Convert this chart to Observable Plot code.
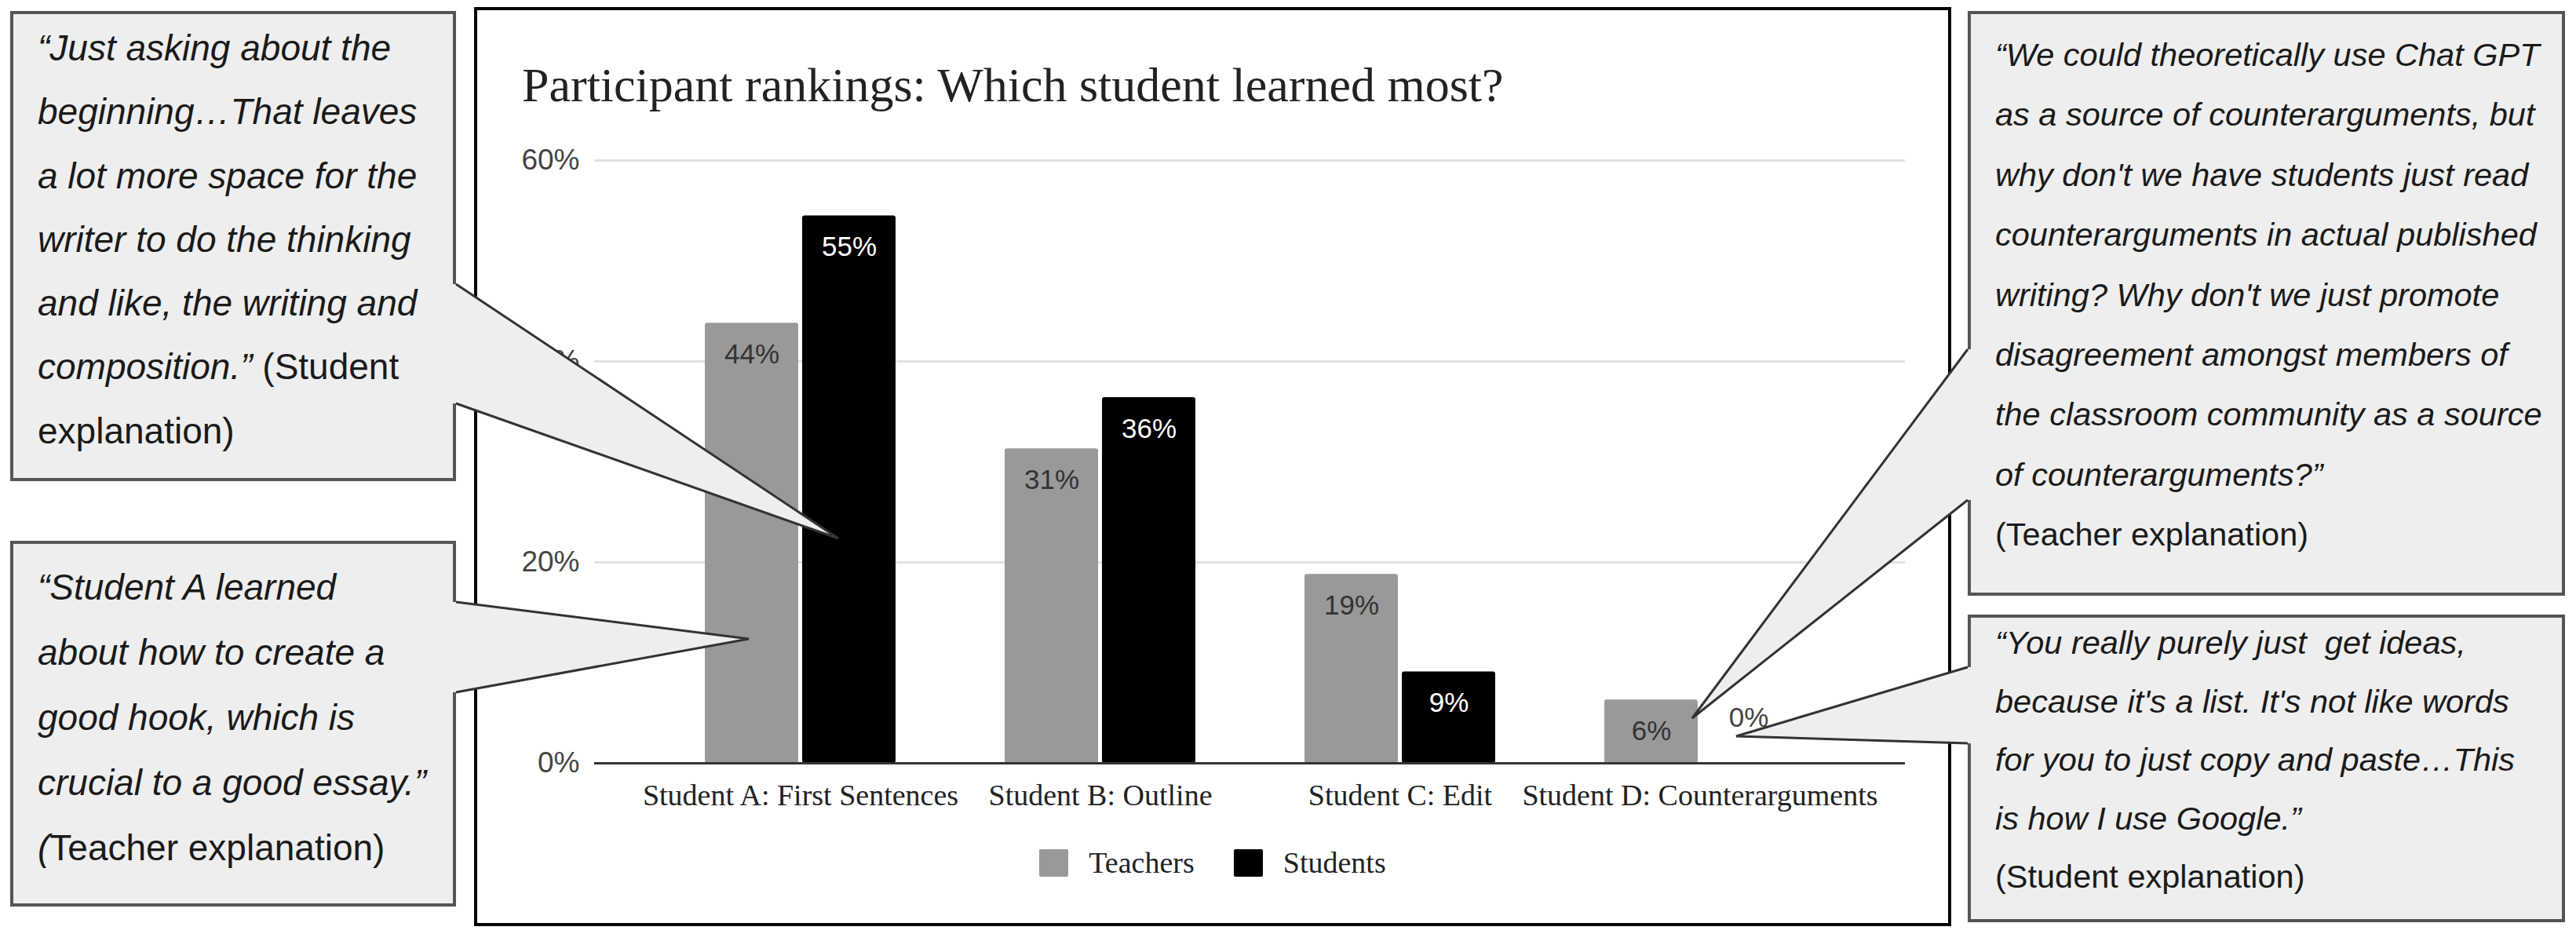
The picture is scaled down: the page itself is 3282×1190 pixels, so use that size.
<!DOCTYPE html>
<html>
<head>
<meta charset="utf-8">
<script src="https://cdn.jsdelivr.net/npm/d3@7"></script>
<script src="https://cdn.jsdelivr.net/npm/@observablehq/plot@0.6"></script>
<style>
  html, body { margin: 0; padding: 0; background: #ffffff; }
  #page { position: relative; width: 3282px; height: 1190px; overflow: hidden; background: #fff; }
  .abs { position: absolute; }
  .frame { box-sizing: border-box; border: 4px solid #000; background: #fff; }
  .box { box-sizing: border-box; border: 4px solid #555555; background: #eeeeee; }
  .quote { white-space: pre; color: #1a1a1a; font-family: "Liberation Sans", Arial, sans-serif; }
  .quote i { font-style: italic; }
  .title { font-family: "Liberation Serif", "Times New Roman", serif; color: #222; white-space: nowrap; }
  .legend { display: flex; align-items: center; justify-content: center; font-family: "Liberation Serif", serif; color: #222; }
  .legend .sw { width: 37px; height: 35px; margin-right: 26px; border-radius: 2px; }
  .legend .item { display: flex; align-items: center; margin-right: 50px; }
  .legend .item:last-child { margin-right: 0; }
</style>
</head>
<body>
<div id="page"></div>
<script>
// ---------------- data ----------------
const categories = [
  "Student A: First Sentences",
  "Student B: Outline",
  "Student C: Edit",
  "Student D: Counterarguments"
];
const seriesNames = ["Teachers", "Students"];
const teachers = [43.8, 31.3, 18.8, 6.3];
const students = [54.5, 36.4, 9.1, 0];
const yTicks = [0, 20, 40, 60];
const seriesColors = ["#999999", "#000000"];
const titleText = "Participant rankings: Which student learned most?";

// callout texts (each line; [text, italic])
const quote1 = [
  [["\u201cJust asking about the", true]],
  [["beginning\u2026That leaves", true]],
  [["a lot more space for the", true]],
  [["writer to do the thinking", true]],
  [["and like, the writing and", true]],
  [["composition.\u201d", true], [" (Student", false]],
  [["explanation)", false]]
];
const quote2 = [
  [["\u201cStudent A learned", true]],
  [["about how to create a", true]],
  [["good hook, which is", true]],
  [["crucial to a good essay.\u201d", true]],
  [["(", true], ["Teacher explanation)", false]]
];
const quote3 = [
  [["\u201cWe could theoretically use Chat GPT", true]],
  [["as a source of counterarguments, but", true]],
  [["why don't we have students just read", true]],
  [["counterarguments in actual published", true]],
  [["writing? Why don't we just promote", true]],
  [["disagreement amongst members of", true]],
  [["the classroom community as a source", true]],
  [["of counterarguments?\u201d", true]],
  [["(Teacher explanation)", false]]
];
const quote4 = [
  [["\u201cYou really purely just  get ideas,", true]],
  [["because it's a list. It's not like words", true]],
  [["for you to just copy and paste\u2026This", true]],
  [["is how I use Google.\u201d", true]],
  [["(Student explanation)", false]]
];

// ---------------- layout helpers ----------------
const page = document.getElementById("page");
function div(cls, x, y, w, h) {
  const d = document.createElement("div");
  d.className = "abs " + cls;
  d.style.left = x + "px"; d.style.top = y + "px";
  if (w != null) d.style.width = w + "px";
  if (h != null) d.style.height = h + "px";
  page.appendChild(d);
  return d;
}

// chart frame
div("frame", 604, 9, 1882, 1171);

// title
const t = div("title", 665, 77);
t.style.fontSize = "62px"; t.style.lineHeight = "62px";
t.textContent = titleText;

// ---------------- the chart ----------------
const rows = categories.flatMap((c, i) => [
  {cat: c, series: seriesNames[0], v: teachers[i]},
  {cat: c, series: seriesNames[1], v: students[i]}
]);
const tRows = rows.filter(d => d.series === seriesNames[0]);
const sRows = rows.filter(d => d.series === seriesNames[1]);
const pct = d => Math.round(d.v) + "%";

const chart = Plot.plot({
  width: 1870,
  height: 900,
  marginLeft: 147,
  marginRight: 53,
  marginTop: 44,
  marginBottom: 88,
  style: {background: "transparent", fontFamily: "Liberation Serif, serif", overflow: "visible"},
  x: {domain: categories, padding: 0.365, label: null},
  y: {domain: [0, 60], label: null},
  color: {domain: seriesNames, range: seriesColors},
  marks: [
    Plot.gridY({ticks: yTicks.filter(v => v > 0), stroke: "#e2e2e2", strokeOpacity: 1, strokeWidth: 3}),
    Plot.barY(tRows, {x: "cat", y: "v", fill: "series", insetRight: 124, rx: 3}),
    Plot.barY(sRows, {x: "cat", y: "v", fill: "series", insetLeft: 124, rx: 3}),
    Plot.ruleY([0], {stroke: "#333", strokeWidth: 3}),
    Plot.text(tRows.filter(d => d.v > 0), {x: "cat", y: "v", text: pct, dx: -62, dy: 40,
      fill: "#333", fontSize: 35, fontFamily: "Liberation Sans, Arial, sans-serif"}),
    Plot.text(sRows.filter(d => d.v > 0), {x: "cat", y: "v", text: pct, dx: 62, dy: 40,
      fill: "#ffffff", fontSize: 35, fontFamily: "Liberation Sans, Arial, sans-serif"}),
    Plot.text(sRows.filter(d => d.v === 0), {x: "cat", y: "v", text: pct, dx: 62, dy: -58,
      fill: "#444", fontSize: 35, fontFamily: "Liberation Sans, Arial, sans-serif"}),
    Plot.axisY({ticks: yTicks, tickSize: 0, tickPadding: 19, tickFormat: d => d + "%",
      fontSize: 37, fontFamily: "Liberation Sans, Arial, sans-serif", color: "#444", label: null}),
    Plot.axisX({tickSize: 0, tickPadding: 27, fontSize: 38, color: "#222", label: null})
  ]
});
const holder = div("", 610, 160, 1870, 900);
holder.appendChild(chart);

// legend
const lg = div("legend", 608, 1080, 1874, 38);
lg.style.fontSize = "38px"; lg.style.lineHeight = "38px";
seriesNames.forEach((s, i) => {
  const it = document.createElement("div"); it.className = "item";
  const sw = document.createElement("div"); sw.className = "sw"; sw.style.background = seriesColors[i];
  const tx = document.createElement("span"); tx.textContent = s;
  it.appendChild(sw); it.appendChild(tx); lg.appendChild(it);
});

// ---------------- callout boxes ----------------
function quoteBox(bx, by, bw, bh, tx, ty, fs, lh, lines) {
  div("box", bx, by, bw, bh);
  const q = div("quote", tx, ty);
  q.style.fontSize = fs + "px"; q.style.lineHeight = lh + "px";
  lines.forEach(parts => {
    const l = document.createElement("div");
    parts.forEach(([txt, it]) => {
      const s = document.createElement(it ? "i" : "span");
      s.textContent = txt; l.appendChild(s);
    });
    q.appendChild(l);
  });
}
quoteBox(13, 14, 568, 599, 48, 21, 46, 81.3, quote1);
quoteBox(13, 689, 568, 466, 48, 707, 46, 83, quote2);
quoteBox(2507, 14, 761, 745, 2542, 32, 41.5, 76.4, quote3);
quoteBox(2507, 783, 761, 392, 2542, 782, 41.5, 74.5, quote4);

// ---------------- callout tails (decoration) ----------------
const tails = [
  {a: [581, 362], b: [581, 514], tip: [1068, 686], inset: -7},
  {a: [581, 767], b: [581, 882], tip: [954, 814], inset: -7},
  {a: [2507, 445], b: [2507, 637], tip: [2156, 915], inset: 7},
  {a: [2507, 850], b: [2507, 947], tip: [2212, 938], inset: 7}
];
const ov = d3.select(page).append("svg")
  .attr("class", "abs").attr("width", 3282).attr("height", 1190)
  .style("left", "0px").style("top", "0px").style("pointer-events", "none");
tails.forEach(tl => {
  const a2 = [tl.a[0] + tl.inset, tl.a[1]], b2 = [tl.b[0] + tl.inset, tl.b[1]];
  ov.append("polygon")
    .attr("points", [a2, tl.a, tl.tip, tl.b, b2].map(p => p.join(",")).join(" "))
    .attr("fill", "#eeeeee");
  ov.append("polyline")
    .attr("points", [tl.a, tl.tip, tl.b].map(p => p.join(",")).join(" "))
    .attr("fill", "none").attr("stroke", "#333").attr("stroke-width", 3).attr("stroke-linejoin", "miter");
});
</script>
</body>
</html>
